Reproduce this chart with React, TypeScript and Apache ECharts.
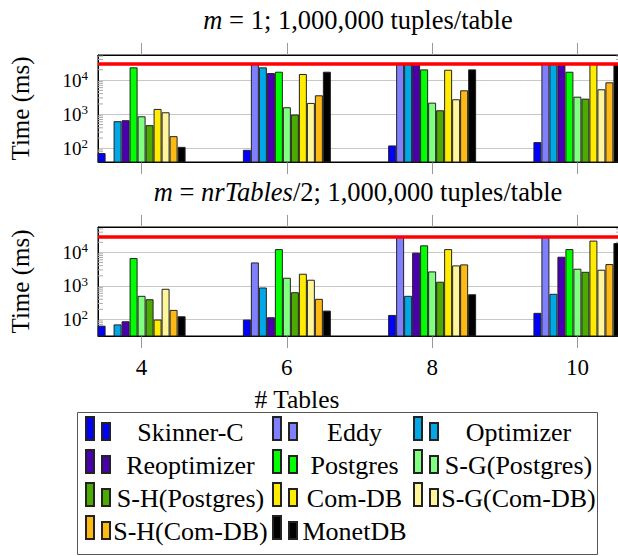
import React, { useEffect, useRef } from 'react';
import * as echarts from 'echarts';

// ---------- data ----------
const TABLE_COUNTS = [4, 6, 8, 10];
const X_TICKS = [4, 6, 8, 10];
const Y_TICKS = [100, 1000, 10000];
const MINOR_TICKS = [
  20, 30, 40, 50, 60, 70, 80, 90,
  200, 300, 400, 500, 600, 700, 800, 900,
  2000, 3000, 4000, 5000, 6000, 7000, 8000, 9000,
  20000, 30000, 40000, 50000, 60000, 70000, 80000, 90000,
];
const TIMEOUT_MS = 30000;

const SERIES_NAMES = [
  'Skinner-C', 'Eddy', 'Optimizer', 'Reoptimizer', 'Postgres', 'S-G(Postgres)',
  'S-H(Postgres)', 'Com-DB', 'S-G(Com-DB)', 'S-H(Com-DB)', 'MonetDB',
];
const SERIES_COLORS = [
  '#0000ff', '#8080ff', '#00a8e8', '#4a00b0', '#00ff00', '#80ff80',
  '#4caa00', '#ffec00', '#fff59a', '#fdb914', '#000000',
];

// m = 1; 1,000,000 tuples/table  (ms, per table count 4, 6, 8, 10)
const m1SkinnerC = [73, 91, 122, 153];
const m1Eddy = [null, 30000, 30000, 30000];
const m1Optimizer = [625, 23500, 30000, 30000];
const m1Reoptimizer = [668, 16000, 30000, 30000];
const m1Postgres = [23500, 17500, 20500, 17500];
const m1SGPostgres = [870, 1600, 2180, 3260];
const m1SHPostgres = [478, 980, 1306, 2850];
const m1ComDB = [1430, 15000, 20000, 30000];
const m1SGComDB = [1140, 2140, 2740, 5360];
const m1SHComDB = [228, 3580, 5000, 8570];
const m1MonetDB = [111, 17500, 20500, 30000];

// m = nrTables/2; 1,000,000 tuples/table
const mHalfSkinnerC = [65, 99, 136, 157];
const mHalfEddy = [null, 5000, 30000, 30000];
const mHalfOptimizer = [71, 895, 505, 580];
const mHalfReoptimizer = [88, 116, 9800, 7400];
const mHalfPostgres = [6760, 12500, 16200, 12500];
const mHalfSGPostgres = [505, 1750, 2700, 3250];
const mHalfSHPostgres = [400, 647, 1330, 2630];
const mHalfComDB = [99, 2300, 12500, 22400];
const mHalfSGComDB = [820, 1525, 4080, 3030];
const mHalfSHComDB = [192, 411, 4370, 4470];
const mHalfMonetDB = [124, 183, 563, 19000];

const M1_VALUES = [
  m1SkinnerC, m1Eddy, m1Optimizer, m1Reoptimizer, m1Postgres, m1SGPostgres,
  m1SHPostgres, m1ComDB, m1SGComDB, m1SHComDB, m1MonetDB,
];
const MHALF_VALUES = [
  mHalfSkinnerC, mHalfEddy, mHalfOptimizer, mHalfReoptimizer, mHalfPostgres, mHalfSGPostgres,
  mHalfSHPostgres, mHalfComDB, mHalfSGComDB, mHalfSHComDB, mHalfMonetDB,
];

// ---------- layout / style ----------
const FONT = '"Liberation Serif", "DejaVu Serif", serif';
const X_MIN = 3.4;
const X_MAX = 10.6;
const GRID_LEFT = 95;
const GRID_WIDTH = 526;

const PANELS = [
  { top: 55, height: 107, yMin: 40, yMax: 54000, values: M1_VALUES, showXLabels: false,
    title: '{i|m} = 1; 1,000,000 tuples/table', titleY: 20 },
  { top: 227, height: 109, yMin: 32, yMax: 57000, values: MHALF_VALUES, showXLabels: true,
    title: '{i|m} = {i|nrTables}/2; 1,000,000 tuples/table', titleY: 192 },
];

// legend columns (left edge of the swatch, text box width)
const LEGEND_COLS = [
  { left: 85, textWidth: 151 },
  { left: 272, textWidth: 105 },
  { left: 413, textWidth: 151 },
];

function buildOption() {
  const grid: any[] = [];
  const xAxis: any[] = [];
  const yAxis: any[] = [];
  const series: any[] = [];
  const graphic: any[] = [];

  PANELS.forEach((p, pi) => {
    grid.push({
      left: GRID_LEFT, width: GRID_WIDTH, top: p.top, height: p.height,
      show: true, borderColor: '#000', borderWidth: 1, backgroundColor: 'transparent',
    });
    const xBase = {
      type: 'value', gridIndex: pi, min: X_MIN, max: X_MAX,
      axisLine: { show: true, onZero: false, lineStyle: { color: '#000', width: 1 } },
      axisTick: { show: true, customValues: X_TICKS, length: 12, inside: false, lineStyle: { color: '#999', width: 1 } },
      splitLine: { show: false },
    };
    xAxis.push({
      ...xBase, position: 'bottom',
      axisLabel: {
        show: p.showXLabels, customValues: X_TICKS, fontFamily: FONT, fontSize: 23, color: '#000', margin: 20,
      },
    });
    xAxis.push({ ...xBase, position: 'top', axisLabel: { show: false } });
    yAxis.push({
      type: 'log', gridIndex: pi, min: p.yMin, max: p.yMax,
      axisLine: { show: true, lineStyle: { color: '#000' } },
      axisTick: { show: false },
      splitLine: { show: true, lineStyle: { color: '#c8c8c8', width: 1 } },
      axisLabel: {
        margin: 10, showMinLabel: false, showMaxLabel: false,
        formatter: (v: number) => {
          const e = Math.round(Math.log10(v));
          if (Math.abs(Math.log10(v) - e) > 1e-6 || !Y_TICKS.includes(Math.pow(10, e))) return '';
          return `{b|10}{s|${e}}`;
        },
        rich: {
          b: { fontFamily: FONT, fontSize: 19, color: '#000', lineHeight: 22 },
          s: { fontFamily: FONT, fontSize: 13, color: '#000', verticalAlign: 'top', lineHeight: 14 },
        },
      },
      name: 'Time (ms)', nameLocation: 'middle', nameGap: 65,
      nameTextStyle: { fontFamily: FONT, fontSize: 25, color: '#000' },
    });

    SERIES_NAMES.forEach((name, si) => {
      const s: any = {
        type: 'bar', name, xAxisIndex: pi * 2, yAxisIndex: pi,
        data: TABLE_COUNTS.map((t, i) => [t, p.values[si][i]]),
        barWidth: 8, barGap: '0%', clip: true,
        itemStyle: { color: SERIES_COLORS[si], borderColor: '#222', borderWidth: 1 },
      };
      if (si === 0) {
        s.markLine = {
          silent: true, symbol: ['none', 'none'], label: { show: false },
          lineStyle: { color: '#ff0000', width: 3.5, type: 'solid' },
          data: [{ yAxis: TIMEOUT_MS }],
        };
      }
      series.push(s);
    });

    series.push({
      type: 'custom', name: 'minor-ticks-' + pi, xAxisIndex: pi * 2, yAxisIndex: pi,
      silent: true,
      data: MINOR_TICKS.filter((v) => v > p.yMin && v < p.yMax).map((v) => [X_MIN, v]),
      encode: { x: 0, y: 1 },
      renderItem: (params: any, api: any) => {
        const v = api.value(1);
        const l = api.coord([X_MIN, v]);
        const r = api.coord([X_MAX, v]);
        return {
          type: 'group',
          children: [
            { type: 'line', shape: { x1: l[0], y1: l[1], x2: l[0] + 5, y2: l[1] }, style: { stroke: '#aaa', lineWidth: 1 } },
            { type: 'line', shape: { x1: r[0] - 5, y1: r[1], x2: r[0], y2: r[1] }, style: { stroke: '#aaa', lineWidth: 1 } },
          ],
        };
      },
    });

    graphic.push({
      type: 'text', x: GRID_LEFT + GRID_WIDTH / 2, y: p.titleY,
      style: {
        text: p.title, fontFamily: FONT, fontSize: 26.5, fill: '#000', align: 'center', verticalAlign: 'middle',
        rich: { i: { fontFamily: FONT, fontSize: 26.5, fontStyle: 'italic', fill: '#000' } },
      },
    });
  });

  graphic.push({
    type: 'text', x: 297, y: 399,
    style: { text: '# Tables', fontFamily: FONT, fontSize: 25.5, fill: '#000', align: 'center', verticalAlign: 'middle' },
  });
  graphic.push({
    type: 'rect', shape: { x: 77.5, y: 412.5, width: 520, height: 142 },
    style: { fill: 'none', stroke: '#555', lineWidth: 1 }, silent: true,
  });

  const legend = LEGEND_COLS.map((col, ci) => ({
    data: SERIES_NAMES.filter((_, i) => i % 3 === ci),
    left: col.left, top: 412, orient: 'vertical',
    itemGap: 0, itemWidth: 24, itemHeight: 23,
    icon: 'path://M0,0H8V23H0Z M16,6H24V23H16Z',
    padding: 0, selectedMode: false,
    formatter: (name: string) => `{t|${name}}`,
    textStyle: {
      fontFamily: FONT, fontSize: 26, color: '#000',
      rich: {
        t: {
          width: col.textWidth, align: 'center', fontFamily: FONT, fontSize: 26, color: '#000',
          lineHeight: 26, padding: [7, 0, 0, 0],
        },
      },
    },
  }));

  return {
    animation: false,
    backgroundColor: '#fff',
    grid, xAxis, yAxis, series, graphic, legend,
  };
}

export default function App() {
  const ref = useRef<HTMLDivElement>(null);
  useEffect(() => {
    if (!ref.current) return;
    const chart = echarts.init(ref.current, null, { renderer: 'svg' });
    chart.setOption(buildOption() as any);
    return () => chart.dispose();
  }, []);
  return (
    <div
      ref={ref}
      style={{ position: 'fixed', left: 0, top: 0, width: 640, height: 556, background: '#fff' }}
    />
  );
}
